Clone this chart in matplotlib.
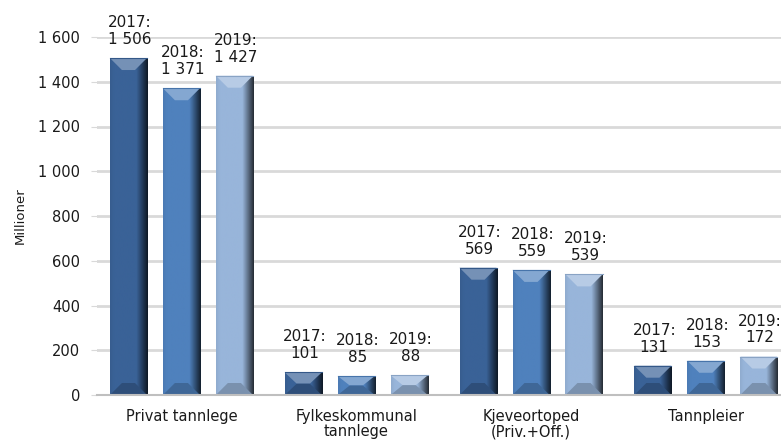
import numpy as np
import matplotlib
matplotlib.use("Agg")
import matplotlib.pyplot as plt
from matplotlib.patches import Rectangle, Polygon
from matplotlib.colors import to_rgb

categories = ["Privat tannlege", "Fylkeskommunal\ntannlege", "Kjeveortoped\n(Priv.+Off.)", "Tannpleier"]
years = ["2017", "2018", "2019"]
values_2017 = [1506, 101, 569, 131]
values_2018 = [1371, 85, 559, 153]
values_2019 = [1427, 88, 539, 172]
yticks = [0, 200, 400, 600, 800, 1000, 1200, 1400, 1600]
ytick_labels = ["0", "200", "400", "600", "800", "1 000", "1 200", "1 400", "1 600"]
ylabel = "Millioner"

series = [values_2017, values_2018, values_2019]
colors = ["#3A6297", "#4F81BD", "#98B5DA"]
offsets = [-0.303, 0.0, 0.303]
width = 0.212

W, H = 781, 443
fig = plt.figure(figsize=(W / 100, H / 100), dpi=100)
ax = fig.add_axes([97 / W, (H - 395) / H, 1 - 97 / W, (395 - 37) / H])
ax.set_xlim(-0.483, 3.43)
ax.set_ylim(0, 1600)

for s in ["top", "right", "left"]:
    ax.spines[s].set_visible(False)
ax.spines["bottom"].set_color("#BFBFBF")
ax.spines["bottom"].set_linewidth(1.5)
ax.set_yticks(yticks)
ax.set_yticklabels(ytick_labels, fontsize=10.5, color="#1a1a1a")
ax.yaxis.grid(True, color="#D9D9D9", linewidth=2)
ax.set_axisbelow(True)
ax.tick_params(axis="y", length=4, color="#D9D9D9", pad=8)
ax.tick_params(axis="x", length=0, pad=10)
x = np.arange(len(categories))
ax.set_xticks(x)
ax.set_xticklabels(categories, fontsize=10.5, color="#1a1a1a", linespacing=1.05)
ax.set_ylabel(ylabel, fontsize=9.5, labelpad=8, color="#1a1a1a")

# pixel -> data conversions for bevel sizes
px_x = (3.43 + 0.483) / (W - 97)
px_y = 1600 / (395 - 37)
bev = 12


def shade(c, f):
    c = np.array(to_rgb(c))
    if f >= 0:
        return tuple(c + (1 - c) * f)
    return tuple(c * (1 + f))


for si, vals in enumerate(series):
    col = colors[si]
    for ci, v in enumerate(vals):
        x0 = x[ci] + offsets[si] - width / 2
        rect = Rectangle((x0, 0), width, v, facecolor=col, edgecolor="none", zorder=2)
        ax.add_patch(rect)
        # horizontal gradient
        n = 64
        t = np.linspace(0, 1, n)
        prof = np.where(t < 0.1, -0.05 + 0.5 * t, np.where(t < 0.7, 0.0, -0.75 * (t - 0.7) / 0.3))
        img = np.array([shade(col, f) for f in prof])[None, :, :]
        im = ax.imshow(img, extent=(x0, x0 + width, 0, v), aspect="auto", zorder=2.1,
                       interpolation="bilinear")
        im.set_clip_path(rect)
        # bevels
        dy = min(bev * px_y, v / 2)
        dx = min(bev * px_x, width / 2)
        top = Polygon([(x0, v), (x0 + width, v), (x0 + width - dx, v - dy), (x0 + dx, v - dy)],
                      closed=True, facecolor=shade(col, 0.3), edgecolor="none", zorder=2.2)
        ax.add_patch(top)
        bot = Polygon([(x0, 0), (x0 + width, 0), (x0 + width - dx, dy), (x0 + dx, dy)],
                      closed=True, facecolor=shade(col, -0.2), edgecolor="none", zorder=2.2)
        ax.add_patch(bot)
        ax.plot([x0, x0 + width], [v, v], color=shade(col, -0.1), lw=0.8, zorder=2.3)
        label = f"{years[si]}:\n{v:,}".replace(",", " ")
        ax.annotate(label, (x[ci] + offsets[si], v), xytext=(1, 8), textcoords="offset points",
                    ha="center", va="bottom", fontsize=11, color="#1a1a1a",
                    linespacing=1.15, annotation_clip=False)

fig.savefig("out.png", dpi=100)
